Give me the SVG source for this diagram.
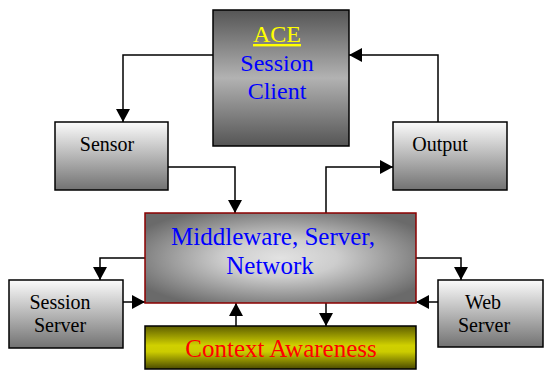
<svg xmlns="http://www.w3.org/2000/svg" width="545" height="370" viewBox="0 0 545 370">
<defs>
<linearGradient id="gAce" x1="0" y1="0" x2="0" y2="1">
<stop offset="0" stop-color="#555"/><stop offset="0.5" stop-color="#b2b2b2"/><stop offset="1" stop-color="#555"/>
</linearGradient>
<linearGradient id="gBox" x1="0" y1="0" x2="0" y2="1">
<stop offset="0" stop-color="#fbfbfb"/><stop offset="1" stop-color="#727272"/>
</linearGradient>
<linearGradient id="gCtx" x1="0" y1="0" x2="0" y2="1">
<stop offset="0" stop-color="#5e5e00"/><stop offset="0.45" stop-color="#d0d000"/><stop offset="0.6" stop-color="#cccc00"/><stop offset="1" stop-color="#4a4a00"/>
</linearGradient>
<radialGradient id="gMid" cx="0.5" cy="0.5" r="0.6">
<stop offset="0" stop-color="#e2e2e2"/><stop offset="0.35" stop-color="#cdcdcd"/><stop offset="1" stop-color="#6a6a6a"/>
</radialGradient>
<marker id="arr" markerUnits="userSpaceOnUse" markerWidth="14" markerHeight="14" viewBox="0 0 14 14" refX="13" refY="7" orient="auto">
<path d="M0,0 L13,7 L0,14 Z" fill="#000"/>
</marker>
<style>
.box{stroke:#000;stroke-width:1.5}
.t{font-family:'Liberation Serif','DejaVu Serif',serif;text-anchor:middle}
.s20{font-size:20px;fill:#000}
.s24{font-size:24px}
.s25{font-size:25px}
.c{fill:none;stroke:#000;stroke-width:1.5;marker-end:url(#arr)}
</style>
</defs>
<g id="connectors">
<path class="c" d="M213,55 H123 V122"/>
<path class="c" d="M438,122 V55 H349"/>
<path class="c" d="M168,167 H235 V213"/>
<path class="c" d="M326,213 V167 H393"/>
<path class="c" d="M145,258 H100 V280"/>
<path class="c" d="M123,302 H145"/>
<path class="c" d="M236,326 V303"/>
<path class="c" d="M326,303 V326"/>
<path class="c" d="M416,258 H461 V280"/>
<path class="c" d="M438,302 H416"/>
</g>
<g id="ace">
<rect class="box" x="213" y="10" width="136" height="136" fill="url(#gAce)"/>
<text class="t s24" x="277" y="42" fill="#ffff00" text-decoration="underline">ACE</text>
<text class="t s24" x="277" y="71" fill="#0000ff">Session</text>
<text class="t s24" x="277" y="99" fill="#0000ff">Client</text>
</g>
<g id="sensor">
<rect class="box" x="55" y="122" width="113" height="68" fill="url(#gBox)"/>
<text class="t s20" x="107" y="151">Sensor</text>
</g>
<g id="output">
<rect class="box" x="393" y="122" width="114" height="68" fill="url(#gBox)"/>
<text class="t s20" x="440" y="151">Output</text>
</g>
<g id="middleware">
<rect x="145" y="213" width="271" height="90" fill="url(#gMid)" stroke="#8b0000" stroke-width="1.5"/>
<text class="t s25" x="273" y="245" fill="#0000ff">Middleware, Server,</text>
<text class="t s25" x="270" y="274" fill="#0000ff">Network</text>
</g>
<g id="session-server">
<rect class="box" x="9" y="280" width="114" height="68" fill="url(#gBox)"/>
<text class="t s20" x="60" y="309">Session</text>
<text class="t s20" x="60" y="332">Server</text>
</g>
<g id="web-server">
<rect class="box" x="438" y="280" width="105" height="67" fill="url(#gBox)"/>
<text class="t s20" x="483" y="309">Web</text>
<text class="t s20" x="484" y="332">Server</text>
</g>
<g id="context">
<rect class="box" x="145" y="326" width="271" height="43" fill="url(#gCtx)"/>
<text class="t s25" x="281" y="357" fill="#ff0000">Context Awareness</text>
</g>
</svg>
